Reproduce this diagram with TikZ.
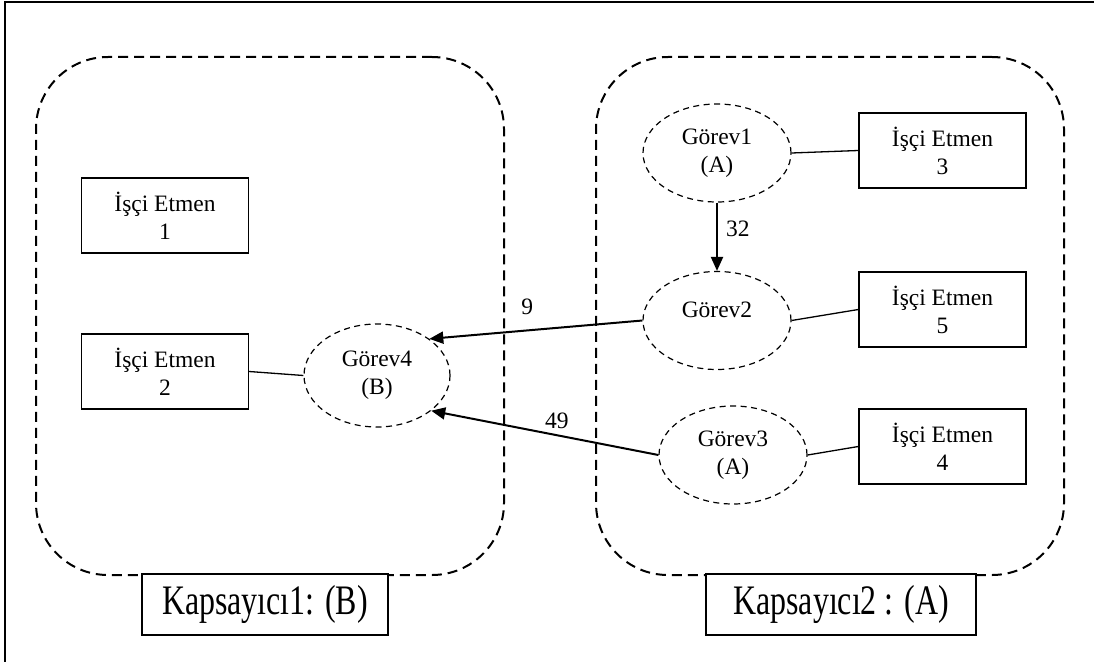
\documentclass[tikz,border=0pt]{standalone}
\usepackage{fontspec}
\usepackage{graphicx}
\setmainfont{Liberation Serif}
\usetikzlibrary{arrows.meta,shapes.geometric}

\begin{document}
\begin{tikzpicture}[x=1pt,y=-1pt,
  bodyfont/.style={font=\fontsize{23.5}{28}\selectfont},
  worker/.style={draw, line width=1.4pt, minimum width=167pt, minimum height=75pt,
    inner sep=0pt, align=center, bodyfont},
  task/.style={ellipse, draw, line width=1.2pt, dash pattern=on 6pt off 4.5pt,
    minimum width=148pt, minimum height=98pt, inner sep=0pt, align=center, bodyfont},
  group/.style={draw, line width=2pt, dash pattern=on 10pt off 6pt,
    rounded corners=72pt, minimum width=468pt, minimum height=518pt, inner sep=0pt},
  caption/.style={draw, line width=1.6pt, fill=white, minimum height=61pt, inner sep=0pt,
    font=\fontsize{42}{44}\selectfont},
  link/.style={line width=1.3pt},
  flow/.style={line width=2pt, -{Triangle[length=14pt,width=12pt]}},
  num/.style={bodyfont, inner sep=0pt}
]
\useasboundingbox (0,0) rectangle (1094,661);

% outer frame (top and left edges)
\draw[line width=2pt] (1100,2.5) -- (4.5,2.5) -- (4.5,670);

% containers
\node[group] (c1) at (270,316) {};
\node[group] (c2) at (830,316) {};

% worker agents
\node[worker] (b1) at (165,215.5) {İşçi Etmen\\1};
\node[worker] (b2) at (165,371.5) {İşçi Etmen\\2};
\node[worker] (b3) at (942.5,150.5) {İşçi Etmen\\3};
\node[worker] (b5) at (942.5,309.5) {İşçi Etmen\\5};
\node[worker] (b4) at (942.5,446.5) {İşçi Etmen\\4};

% tasks
\node[task] (g1) at (717,153) {Görev1\\(A)};
\node[task] (g2) at (717,320.5) {\raisebox{3pt}[0pt][0pt]{Görev2}};
\node[task] (g3) at (733,455) {Görev3\\(A)};
\node[task, minimum width=146pt, minimum height=103pt] (g4) at (377,375.5) {Görev4\\(B)};

% assignments
\draw[link] (g1.east) -- (b3.west);
\draw[link] (g2.east) -- (b5.west);
\draw[link] (g3.east) -- (b4.west);
\draw[link] (b2.east) -- (g4.west);

% transfers
\draw[flow] (g1.south) -- node[num, pos=0.38, anchor=west, xshift=8pt] {32} (g2.north);
\draw[flow] (g2.west) -- node[num, pos=0.54, yshift=24pt] {9} (g4.35);
\draw[flow] (g3.west) -- node[num, pos=0.447, yshift=14pt] {49} (g4.-33);

% container captions
\node[caption, minimum width=246pt] (k1) at (265,604.5) {\scalebox{0.76}[1]{Kapsayıcı1: (B)}};
\node[caption, minimum width=270pt] (k2) at (841,604.5) {\scalebox{0.76}[1]{Kapsayıcı2 : (A)}};
\end{tikzpicture}
\end{document}
